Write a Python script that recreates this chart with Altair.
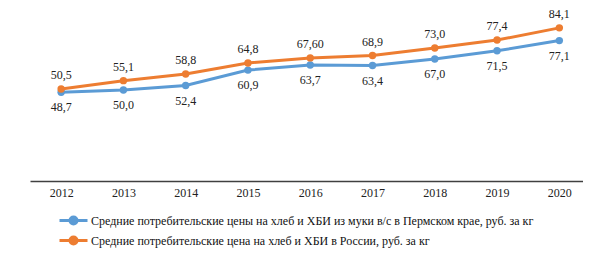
import altair as alt
import pandas as pd

years = [2012, 2013, 2014, 2015, 2016, 2017, 2018, 2019, 2020]
perm_values = [48.7, 50.0, 52.4, 60.9, 63.7, 63.4, 67.0, 71.5, 77.1]
perm_labels = ["48,7", "50,0", "52,4", "60,9", "63,7", "63,4", "67,0", "71,5", "77,1"]
russia_values = [50.5, 55.1, 58.8, 64.8, 67.6, 68.9, 73.0, 77.4, 84.1]
russia_labels = ["50,5", "55,1", "58,8", "64,8", "67,60", "68,9", "73,0", "77,4", "84,1"]

perm_name = "Средние потребительские цены на хлеб и ХБИ из муки в/с в Пермском крае, руб. за кг"
russia_name = "Средние потребительские цена на хлеб и ХБИ в России, руб. за кг"
series_names = [perm_name, russia_name]
series_colors = ["#5B9BD5", "#ED7D31"]

rows = []
for y, v, l in zip(years, perm_values, perm_labels):
    rows.append({"year": y, "value": v, "label": l, "series": perm_name, "order": 0})
for y, v, l in zip(years, russia_values, russia_labels):
    rows.append({"year": y, "value": v, "label": l, "series": russia_name, "order": 1})
df = pd.DataFrame(rows)

FONT = "'Liberation Serif', 'Times New Roman', serif"

x = alt.X("year:Q",
          scale=alt.Scale(domain=[2011.5, 2020.38], nice=False, zero=False),
          axis=alt.Axis(values=years, format="d", title=None, ticks=False, grid=False,
                        domainColor="#404040", domainWidth=1.5, labelFont=FONT,
                        labelFontSize=12, labelColor="#222222", labelPadding=6,
                        labelFlush=False, labelOverlap=False))
y = alt.Y("value:Q", scale=alt.Scale(domain=[0, 95], nice=False), axis=None)

legend = alt.Legend(
    title=None, orient="none", legendX=37, legendY=206,
    symbolType="M-2.8,0L2.8,0M-0.7,0A0.7,0.7,0,1,1,0.7,0A0.7,0.7,0,1,1,-0.7,0Z",
    symbolSize=100, symbolStrokeWidth=3, labelOffset=11, rowPadding=1,
    symbolOpacity=1,
    labelFont=FONT, labelFontSize=12, labelColor="#111111", labelLimit=600)

color = alt.Color("series:N", scale=alt.Scale(domain=series_names, range=series_colors),
                  legend=legend)

base = alt.Chart(df).encode(x=x, y=y)

lines = base.mark_line(strokeWidth=3).encode(color=color, detail="series:N", order="order:Q")
points = base.mark_point(filled=True, size=55, opacity=1).encode(color=color)

perm_text = base.transform_filter(alt.datum.order == 0).mark_text(
    font=FONT, fontSize=12, color="#222222", dy=15).encode(text="label:N")
russia_text = base.transform_filter(alt.datum.order == 1).mark_text(
    font=FONT, fontSize=12, color="#222222", dy=-14).encode(text="label:N")

chart = alt.layer(lines, points, perm_text, russia_text).properties(
    width=553, height=173,
    background="white",
    autosize=alt.AutoSizeParams(type="none"),
    padding={"left": 22, "top": 0, "right": 0, "bottom": 67},
).configure_view(stroke=None)

chart.save("out.html", embed_options={"renderer": "svg", "actions": False})
